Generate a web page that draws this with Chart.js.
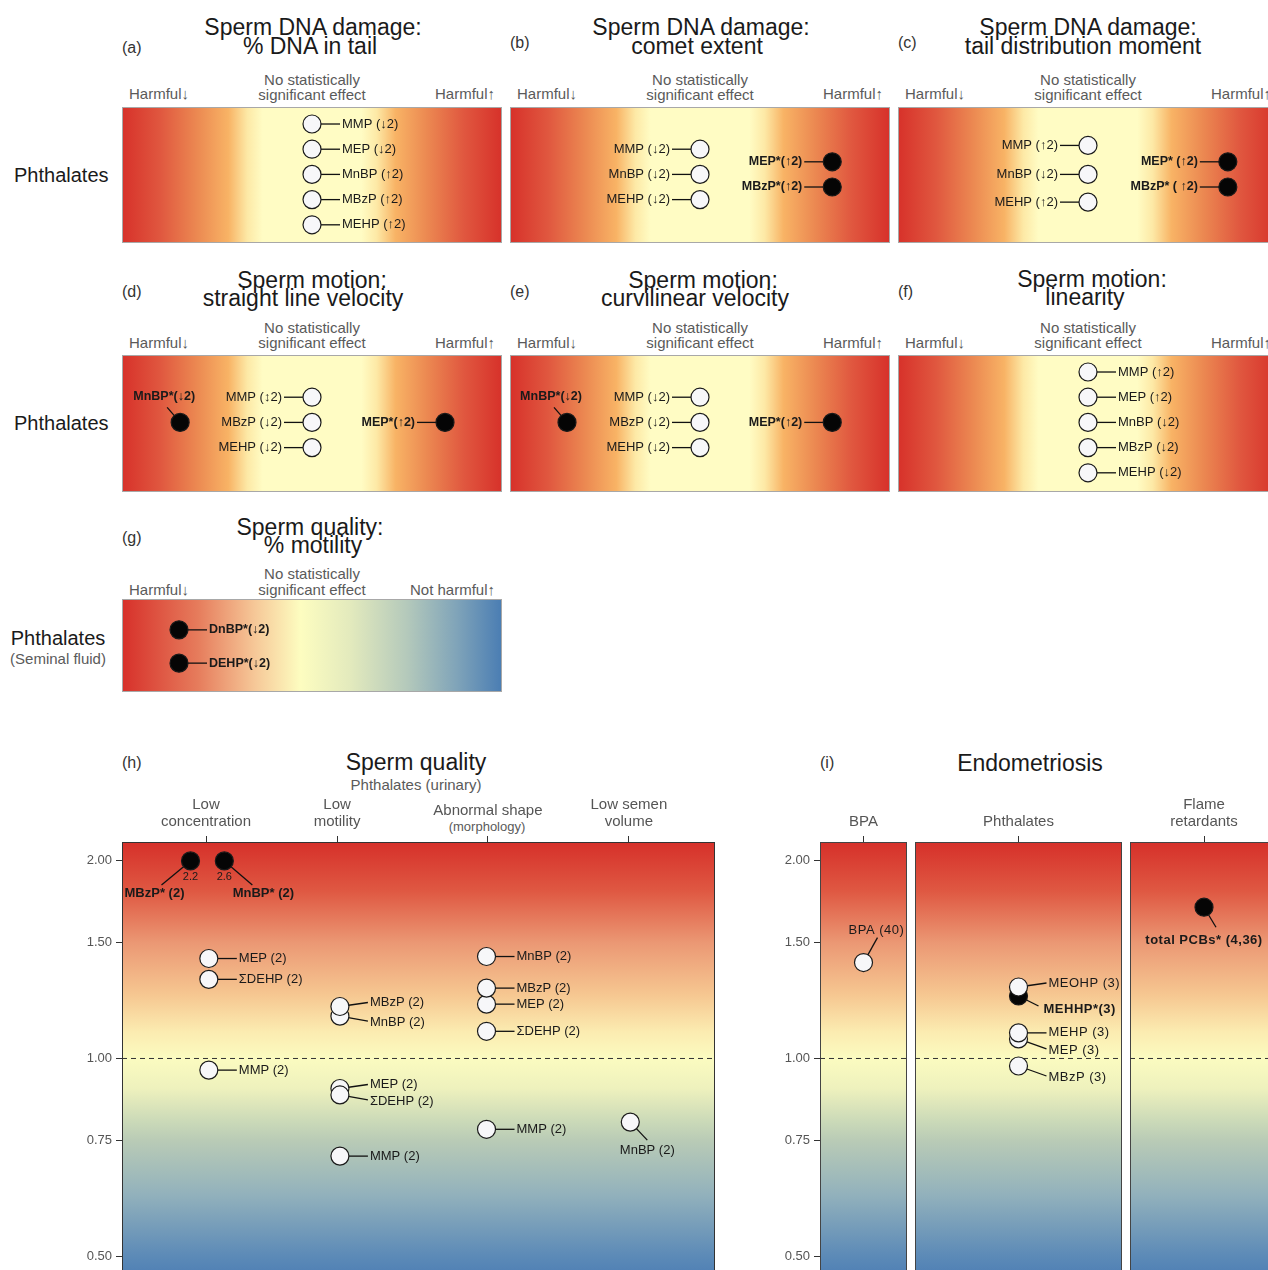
<!DOCTYPE html>
<html>
<head>
<meta charset="utf-8">
<title>Phthalates: sperm and endometriosis effects</title>
<script src="https://cdn.jsdelivr.net/npm/chart.js@4.4.1/dist/chart.umd.min.js"></script>
<style>
  html, body { margin: 0; padding: 0; }
  body { width: 1268px; height: 1270px; overflow: hidden; background: #fff; position: relative;
         font-family: 'Liberation Sans', Arial, Helvetica, sans-serif; }
  canvas { position: absolute; }
  .txt { position: absolute; white-space: nowrap; line-height: 1; }
</style>
</head>
<body>
<script>
// === データ: 上段パネル (a)-(g) ===
// x: パネル幅に対する位置 (%), row: 行番号 (上から)
const aNames = ['MMP (↓2)', 'MEP (↓2)', 'MnBP (↑2)', 'MBzP (↑2)', 'MEHP (↑2)'];
const aX     = [50, 50, 50, 50, 50];
const aRow   = [1, 2, 3, 4, 5];
const aSig   = [0, 0, 0, 0, 0];

const bNames = ['MMP (↓2)', 'MnBP (↓2)', 'MEHP (↓2)', 'MEP*(↑2)', 'MBzP*(↑2)'];
const bX     = [50, 50, 50, 84.8, 84.8];
const bRow   = [2, 3, 4, 2.5, 3.5];
const bSig   = [0, 0, 0, 1, 1];

const cNames = ['MMP (↑2)', 'MnBP (↓2)', 'MEHP (↑2)', 'MEP* (↑2)', 'MBzP* ( ↑2)'];
const cX     = [50, 50, 50, 86.8, 86.8];
const cRow   = [1.85, 3, 4.1, 2.5, 3.5];
const cSig   = [0, 0, 0, 1, 1];

const dNames = ['MnBP*(↓2)', 'MMP (↕2)', 'MBzP (↓2)', 'MEHP (↓2)', 'MEP*(↑2)'];
const dX     = [15.3, 50, 50, 50, 85];
const dRow   = [3, 2, 3, 4, 3];
const dSig   = [1, 0, 0, 0, 1];

const eNames = ['MnBP*(↓2)', 'MMP (↓2)', 'MBzP (↓2)', 'MEHP (↓2)', 'MEP*(↑2)'];
const eX     = [15, 50, 50, 50, 84.8];
const eRow   = [3, 2, 3, 4, 3];
const eSig   = [1, 0, 0, 0, 1];

const fNames = ['MMP (↑2)', 'MEP (↑2)', 'MnBP (↓2)', 'MBzP (↓2)', 'MEHP (↓2)'];
const fX     = [50, 50, 50, 50, 50];
const fRow   = [1, 2, 3, 4, 5];
const fSig   = [0, 0, 0, 0, 0];

const gNames = ['DnBP*(↓2)', 'DEHP*(↓2)'];
const gX     = [15, 15];
const gRow   = [1.55, 2.87];
const gSig   = [1, 1];

// === データ: (h) Sperm quality (オッズ比, 対数軸) ===
const orTicks = [0.5, 0.75, 1, 1.5, 2];
const OR_CAP = 2.0;
const hCats   = [['Low', 'concentration'], ['Low', 'motility'], ['Abnormal shape', ''], ['Low semen', 'volume']];
const hCatPos = [1, 1.93, 3, 4];
const hNames  = ['MBzP* (2)', 'MnBP* (2)', 'MEP (2)', 'ΣDEHP (2)', 'MMP (2)',
                 'MnBP (2)', 'MBzP (2)', 'MEP (2)', 'ΣDEHP (2)', 'MMP (2)',
                 'MnBP (2)', 'MEP (2)', 'MBzP (2)', 'ΣDEHP (2)', 'MMP (2)',
                 'MnBP (2)'];
const hX   = [0.89, 1.13, 1.02, 1.02, 1.02, 1.95, 1.95, 1.95, 1.95, 1.95, 2.99, 2.99, 2.99, 2.99, 2.99, 4.01];
const hOR  = [2.2, 2.6, 1.42, 1.32, 0.96, 1.16, 1.20, 0.90, 0.88, 0.71, 1.43, 1.21, 1.28, 1.10, 0.78, 0.80];
const hSig = [1, 1, 0, 0, 0, 0, 0, 0, 0, 0, 0, 0, 0, 0, 0, 0];

// === データ: (i) Endometriosis ===
const iCats     = ['BPA', 'Phthalates', ['Flame', 'retardants']];
const iBpaNames = ['BPA (40)'];
const iBpaOR    = [1.40];
const iBpaSig   = [0];
const iPhtNames = ['MEHHP*(3)', 'MEOHP (3)', 'MEP (3)', 'MEHP (3)', 'MBzP (3)'];
const iPhtOR    = [1.245, 1.285, 1.071, 1.094, 0.974];
const iPhtSig   = [1, 0, 0, 0, 0];
const iFrNames  = ['total PCBs* (4,36)'];
const iFrOR     = [1.70];
const iFrSig    = [1];

// === スタイル ===
const FONT = "'Liberation Sans', Arial, Helvetica, sans-serif";
Chart.defaults.font.family = FONT;
Chart.defaults.color = '#555';

const HARM_STOPS = [[0, '#d7312a'], [0.1, '#e0573f'], [0.2, '#ec8a52'], [0.28, '#f8b365'], [0.33, '#fde9a6'],
                    [0.37, '#fffcc4'], [0.63, '#fffcc4'], [0.67, '#fde9a6'], [0.72, '#f8b365'],
                    [0.8, '#ec8a52'], [0.9, '#e0573f'], [1, '#d7312a']];
const MOT_STOPS  = [[0, '#d7302a'], [0.2, '#e67c5c'], [0.35, '#f6c898'], [0.47, '#fdfdc0'], [0.6, '#e3eabd'],
                    [0.75, '#b4c9bb'], [0.88, '#80a4b9'], [1, '#4a7db3']];
const OR_STOPS   = [[2.2, '#d6302a'], [1.8, '#df5842'], [1.5, '#eb9874'], [1.25, '#f6c791'], [1.1, '#fbebb0'],
                    [1.0, '#fbfbc0'], [0.9, '#eef1bd'], [0.8, '#cad9b8'], [0.75, '#b9cbb6'], [0.62, '#92b1bc'],
                    [0.5, '#5c8ab7'], [0.46, '#5282b5']];
const OR_MIN = 0.4745, OR_MAX = 2.137;
const ROW_MIN = 0.325, ROW_STEP = 25.2;

// ラベル配置 (円の中心からのオフセット)
const PLACE = {
  r:   { tx: 30,  ty: 0,   lx: 28,  ly: 0,   align: 'left' },
  ru:  { tx: 30,  ty: -4,  lx: 28,  ly: -4,  align: 'left' },
  rd:  { tx: 30,  ty: 6,   lx: 28,  ly: 5,   align: 'left' },
  rd2: { tx: 30,  ty: 11,  lx: 28,  ly: 10,  align: 'left' },
  rdd: { tx: 25,  ty: 13,  lx: 20,  ly: 10,  align: 'left' },
  l:   { tx: -30, ty: 0,   lx: -28, ly: 0,   align: 'right' },
  ul:  { tx: -16, ty: -26, lx: -13, ly: -15, align: 'center' },
  dl:  { tx: -36, ty: 33,  lx: -29, ly: 24,  align: 'center' },
  dr:  { tx: 39,  ty: 33,  lx: 28,  ly: 24,  align: 'center' },
  dn:  { tx: 17,  ty: 28,  lx: 17,  ly: 18,  align: 'center' },
  up:  { tx: 13,  ty: -32, lx: 14,  ly: -25, align: 'center' },
  dc:  { tx: 0,   ty: 33,  lx: 12,  ly: 20,  align: 'center' },
};

// === ヘルパー ===
function txt(x, y, s, o = {}) {
  const d = document.createElement('div');
  d.className = 'txt';
  d.textContent = s;
  d.style.left = x + 'px';
  d.style.top = y + 'px';
  d.style.fontSize = (o.size || 15) + 'px';
  d.style.color = o.color || '#5a5a5a';
  if (o.bold) d.style.fontWeight = 'bold';
  const tx = o.align === 'center' ? '-50%' : o.align === 'right' ? '-100%' : '0';
  d.style.transform = `translate(${tx}, -50%)`;
  document.body.appendChild(d);
}

function addCanvas(b) {
  const cv = document.createElement('canvas');
  cv.width = b.w; cv.height = b.h;
  cv.style.left = b.left + 'px'; cv.style.top = b.top + 'px';
  cv.style.width = b.w + 'px'; cv.style.height = b.h + 'px';
  document.body.appendChild(cv);
  return cv;
}

function pointDataset(data, sig) {
  return {
    data,
    pointRadius: 9, pointHoverRadius: 9,
    pointBorderWidth: 1.2, pointBorderColor: '#1a1a1a',
    pointBackgroundColor: sig.map(s => s ? '#050505' : '#f7f7f9'),
    showLine: false,
  };
}

function refLine(x0, x1) {
  return {
    data: [{ x: x0, y: 1 }, { x: x1, y: 1 }],
    showLine: true, pointRadius: 0, borderColor: '#333', borderWidth: 1, borderDash: [5, 4], fill: false,
  };
}

// 背景グラデーション + 枠 + 引き出し線 + ラベル
function makeDecor(cfg) {
  const place = typeof cfg.place === 'string' ? cfg.names.map(() => cfg.place) : cfg.place;
  return {
    id: 'decor',
    beforeDatasetsDraw(chart) {
      const { ctx, chartArea: a } = chart;
      ctx.save();
      let g;
      if (cfg.vertical) {
        const ys = chart.scales.y;
        g = ctx.createLinearGradient(0, a.top, 0, a.bottom);
        cfg.stops.forEach(([v, c]) => {
          const f = (ys.getPixelForValue(v) - a.top) / (a.bottom - a.top);
          g.addColorStop(Math.min(1, Math.max(0, f)), c);
        });
      } else {
        g = ctx.createLinearGradient(a.left, 0, a.right, 0);
        cfg.stops.forEach(([f, c]) => g.addColorStop(f, c));
      }
      ctx.fillStyle = g;
      ctx.fillRect(a.left, a.top, a.width, a.height);
      ctx.strokeStyle = cfg.border;
      ctx.lineWidth = 1;
      ctx.strokeRect(a.left + 0.5, a.top + 0.5, a.width - 1, a.height - 1);

      ctx.strokeStyle = '#111';
      ctx.lineWidth = 1.3;
      chart.getDatasetMeta(0).data.forEach((pt, i) => {
        const p = PLACE[place[i]];
        ctx.beginPath();
        ctx.moveTo(pt.x, pt.y);
        ctx.lineTo(pt.x + p.lx, pt.y + p.ly);
        ctx.stroke();
      });
      ctx.restore();
    },
    afterDatasetsDraw(chart) {
      const { ctx } = chart;
      ctx.save();
      ctx.fillStyle = '#1a1a1a';
      ctx.textBaseline = 'middle';
      if (cfg.spacing) ctx.letterSpacing = cfg.spacing;
      chart.getDatasetMeta(0).data.forEach((pt, i) => {
        const p = PLACE[place[i]];
        const bold = cfg.sig[i];
        ctx.font = `${bold ? 'bold ' : ''}${bold ? cfg.boldSize : cfg.size}px ${FONT}`;
        ctx.textAlign = p.align;
        ctx.fillText(cfg.names[i], pt.x + p.tx, pt.y + p.ty);
        if (cfg.raw && cfg.raw[i] > cfg.cap) {
          ctx.font = `11px ${FONT}`;
          ctx.textAlign = 'center';
          ctx.fillText(cfg.raw[i].toFixed(1), pt.x, pt.y + 16);
        }
      });
      ctx.restore();
    },
  };
}

function baseOptions(scales) {
  return {
    responsive: false, animation: false, events: [],
    layout: { padding: 0, autoPadding: false },
    plugins: { legend: { display: false }, tooltip: { enabled: false } },
    scales,
  };
}

function topAxis(min, max, pos, labels) {
  return {
    type: 'linear', position: 'top', min, max,
    afterBuildTicks: s => { s.ticks = pos.map(v => ({ value: v })); },
    afterFit: s => { s.height = 47; s.paddingLeft = 0; s.paddingRight = 0; },
    ticks: {
      callback: (v, i) => labels[i],
      color: '#555', padding: 6, autoSkip: false, maxRotation: 0,
      font: c => ({ size: 15, lineHeight: Array.isArray(labels[c.index]) && labels[c.index][1] === '' ? 0.855 : 1.1 }),
    },
    grid: { drawOnChartArea: false, drawTicks: true, tickLength: 6, tickColor: '#333' },
    border: { display: false },
  };
}

function orAxis(show) {
  return {
    type: 'logarithmic', min: OR_MIN, max: OR_MAX, display: show,
    afterBuildTicks: s => { s.ticks = orTicks.map(v => ({ value: v })); },
    afterFit: s => { if (show) s.width = 52; s.paddingTop = 0; s.paddingBottom = 0; },
    ticks: { callback: v => Number(v).toFixed(2), color: '#555', padding: 4, font: { size: 13 } },
    grid: { drawOnChartArea: false, drawTicks: true, tickLength: 6, tickColor: '#333' },
    border: { display: false },
  };
}

// === 上段パネル ===
const strips = [
  { box: { left: 122, top: 107, w: 380, h: 136 }, tag: '(a)', tagY: 48, title: ['Sperm DNA damage:', '% DNA in tail'],
    titleX: [313, 310], titleY: [27, 46], textY: [79, 94, 93], right: 'Harmful↑', stops: HARM_STOPS,
    names: aNames, x: aX, row: aRow, sig: aSig, place: 'r' },
  { box: { left: 510, top: 107, w: 380, h: 136 }, tag: '(b)', tagY: 43, title: ['Sperm DNA damage:', 'comet extent'],
    titleX: [701, 697], titleY: [27, 46], textY: [79, 94, 93], right: 'Harmful↑', stops: HARM_STOPS,
    names: bNames, x: bX, row: bRow, sig: bSig, place: 'l' },
  { box: { left: 898, top: 107, w: 380, h: 136 }, tag: '(c)', tagY: 43, title: ['Sperm DNA damage:', 'tail distribution moment'],
    titleX: [1088, 1083], titleY: [27, 46], textY: [79, 94, 93], right: 'Harmful↑', stops: HARM_STOPS,
    names: cNames, x: cX, row: cRow, sig: cSig, place: 'l' },
  { box: { left: 122, top: 355, w: 380, h: 137 }, tag: '(d)', tagY: 292, title: ['Sperm motion:', 'straight line velocity'],
    titleX: [312, 303], titleY: [280, 298], textY: [327, 342, 342], right: 'Harmful↑', stops: HARM_STOPS,
    names: dNames, x: dX, row: dRow, sig: dSig, place: ['ul', 'l', 'l', 'l', 'l'] },
  { box: { left: 510, top: 355, w: 380, h: 137 }, tag: '(e)', tagY: 292, title: ['Sperm motion:', 'curvilinear velocity'],
    titleX: [703, 695], titleY: [280, 298], textY: [327, 342, 342], right: 'Harmful↑', stops: HARM_STOPS,
    names: eNames, x: eX, row: eRow, sig: eSig, place: ['ul', 'l', 'l', 'l', 'l'] },
  { box: { left: 898, top: 355, w: 380, h: 137 }, tag: '(f)', tagY: 292, title: ['Sperm motion:', 'linearity'],
    titleX: [1092, 1085], titleY: [279, 297], textY: [327, 342, 342], right: 'Harmful↑', stops: HARM_STOPS,
    names: fNames, x: fX, row: fRow, sig: fSig, place: 'r' },
  { box: { left: 122, top: 599, w: 380, h: 93 }, tag: '(g)', tagY: 538, title: ['Sperm quality:', '% motility'],
    titleX: [310, 313], titleY: [527, 545], textY: [573, 589, 589], right: 'Not harmful↑', stops: MOT_STOPS,
    names: gNames, x: gX, row: gRow, sig: gSig, place: 'r' },
];

strips.forEach(p => {
  const b = p.box;
  txt(b.left, p.tagY, p.tag, { size: 16, color: '#333' });
  txt(p.titleX[0], p.titleY[0], p.title[0], { size: 23, color: '#1a1a1a', align: 'center' });
  txt(p.titleX[1], p.titleY[1], p.title[1], { size: 23, color: '#1a1a1a', align: 'center' });
  txt(b.left + b.w / 2, p.textY[0], 'No statistically', { align: 'center' });
  txt(b.left + b.w / 2, p.textY[1], 'significant effect', { align: 'center' });
  txt(b.left + 7, p.textY[2], 'Harmful↓');
  txt(b.left + b.w - 7, p.textY[2], p.right, { align: 'right' });

  const cv = addCanvas(b);
  new Chart(cv, {
    type: 'scatter',
    data: { datasets: [pointDataset(p.x.map((x, i) => ({ x, y: p.row[i] })), p.sig)] },
    options: baseOptions({
      x: { type: 'linear', min: 0, max: 100, display: false },
      y: { type: 'linear', min: ROW_MIN, max: ROW_MIN + b.h / ROW_STEP, reverse: true, display: false },
    }),
    plugins: [makeDecor({ stops: p.stops, border: '#a8a8a8', names: p.names, sig: p.sig, place: p.place,
                          size: 13, boldSize: 12.5 })],
  });
});

txt(14, 175, 'Phthalates', { size: 20, color: '#1a1a1a' });
txt(14, 423, 'Phthalates', { size: 20, color: '#1a1a1a' });
txt(58, 638, 'Phthalates', { size: 20, color: '#1a1a1a', align: 'center' });
txt(58, 658, '(Seminal fluid)', { size: 15, color: '#5a5a5a', align: 'center' });

// === (h) Sperm quality ===
txt(122, 763, '(h)', { size: 16, color: '#333' });
txt(416, 762, 'Sperm quality', { size: 23, color: '#1a1a1a', align: 'center' });
txt(416, 784, 'Phthalates (urinary)', { size: 15, align: 'center' });
txt(487, 826, '(morphology)', { size: 13, align: 'center' });

const H_MIN = 0.404, H_MAX = 4.611;
const hPlace = ['dl', 'dr', 'r', 'r', 'r', 'rd', 'ru', 'ru', 'rd', 'r', 'r', 'r', 'r', 'r', 'r', 'dn'];
new Chart(addCanvas({ left: 70, top: 795, w: 645, h: 476 }), {
  type: 'scatter',
  data: { datasets: [
    pointDataset(hX.map((x, i) => ({ x, y: Math.min(hOR[i], OR_CAP) })), hSig),
    refLine(H_MIN, H_MAX),
  ] },
  options: baseOptions({ x: topAxis(H_MIN, H_MAX, hCatPos, hCats), y: orAxis(true) }),
  plugins: [makeDecor({ vertical: true, stops: OR_STOPS, border: '#333', names: hNames, sig: hSig, place: hPlace,
                        size: 13, boldSize: 13, raw: hOR, cap: OR_CAP })],
});

// === (i) Endometriosis ===
txt(820, 763, '(i)', { size: 16, color: '#333' });
txt(1030, 763, 'Endometriosis', { size: 23, color: '#1a1a1a', align: 'center' });

const facets = [
  { box: { left: 768, top: 795, w: 139, h: 476 }, cat: iCats[0], names: iBpaNames, or: iBpaOR, sig: iBpaSig, place: ['up'], axis: true },
  { box: { left: 915, top: 795, w: 207, h: 476 }, cat: iCats[1], names: iPhtNames, or: iPhtOR, sig: iPhtSig,
    place: ['rdd', 'ru', 'rd2', 'r', 'rd2'], axis: false },
  { box: { left: 1130, top: 795, w: 148, h: 476 }, cat: iCats[2], names: iFrNames, or: iFrOR, sig: iFrSig, place: ['dc'], axis: false },
];

facets.forEach(f => {
  new Chart(addCanvas(f.box), {
    type: 'scatter',
    data: { datasets: [
      pointDataset(f.or.map(v => ({ x: 1, y: v })), f.sig),
      refLine(0, 2),
    ] },
    options: baseOptions({ x: topAxis(0, 2, [1], [f.cat]), y: orAxis(f.axis) }),
    plugins: [makeDecor({ vertical: true, stops: OR_STOPS, border: '#444', names: f.names, sig: f.sig, place: f.place,
                          size: 13, boldSize: 13, spacing: '0.5px' })],
  });
});
</script>
</body>
</html>
